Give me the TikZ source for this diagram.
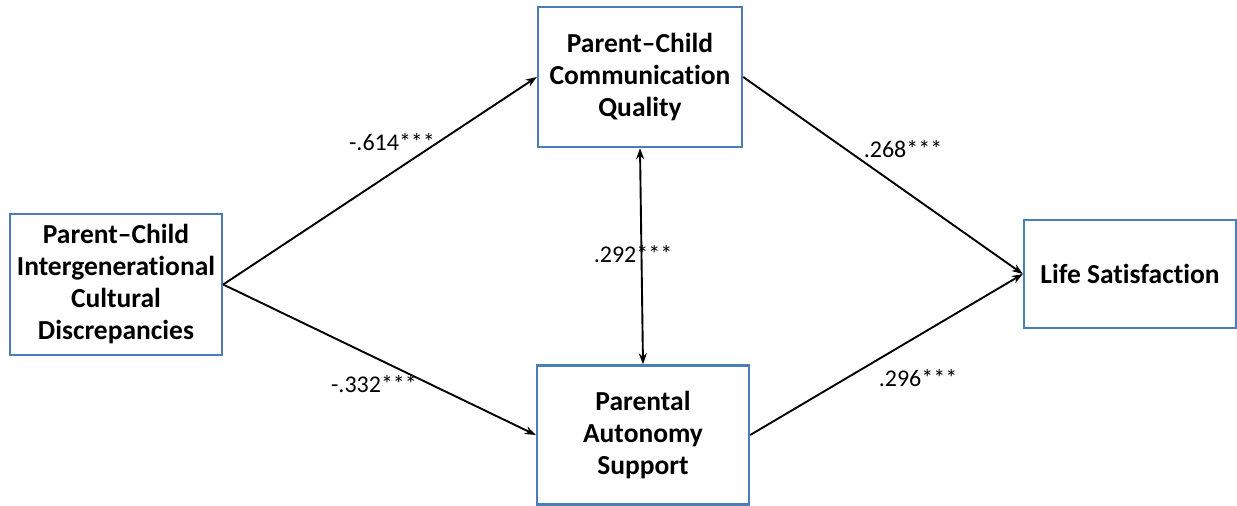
\documentclass[tikz,border=0pt]{standalone}
\usepackage{fontspec}
\setmainfont[Ligatures={NoCommon}]{Carlito}
\usetikzlibrary{arrows.meta}
\definecolor{boxblue}{RGB}{74,126,187}
\tikzset{
  varbox/.style={draw=boxblue, line width=2.4pt, fill=white, align=center,
    font=\fontsize{27.5}{32}\selectfont\bfseries, inner sep=4pt},
  path/.style={line width=1.9pt, -{Stealth[length=11pt,width=8pt]}},
  coef/.style={font=\fontsize{24}{28}\selectfont, inner sep=0pt}
}
\begin{document}
\begin{tikzpicture}[x=1pt,y=-1pt]
\useasboundingbox (0,0) rectangle (1237,506);
\node[varbox, minimum width=212pt, minimum height=141pt] (icd) at (116,284.5)
  {Parent–Child\\Intergenerational\\Cultural\\Discrepancies};
\node[varbox, minimum width=204pt, minimum height=140pt] (pcc) at (640,77)
  {Parent–Child\\Communication\\Quality};
\node[varbox, minimum width=212pt, minimum height=139pt] (pas) at (643,435)
  {Parental\\Autonomy\\Support};
\node[varbox, minimum width=212pt, minimum height=108pt] (ls) at (1130,274)
  {Life Satisfaction};

\draw[path] (icd.east) -- (pcc.west);
\draw[path] (icd.east) -- (pas.west);
\draw[path] (pcc.east) -- (ls.west);
\draw[path] (pas.east) -- (ls.west);
\draw[line width=1.9pt, {Stealth[length=11pt,width=8pt]}-{Stealth[length=11pt,width=8pt]}] (pcc.south) -- (pas.north);

\node[coef] (c1) at (392,142) {-.614***};
\node[coef] (c2) at (374,384) {-.332***};
\node[coef] (c3) at (633,254) {.292***};
\node[coef] (c4) at (903,149) {.268***};
\node[coef] (c5) at (918,378) {.296***};
\end{tikzpicture}
\end{document}
